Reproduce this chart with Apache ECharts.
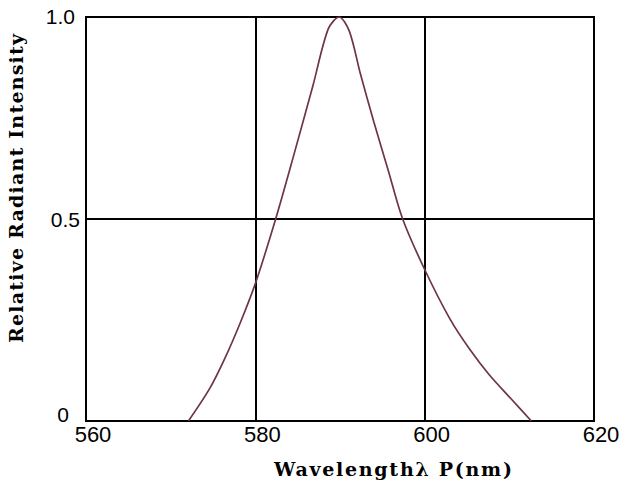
<!DOCTYPE html>
<html>
<head>
<meta charset="utf-8">
<script src="https://cdn.jsdelivr.net/npm/echarts@6/dist/echarts.min.js"></script>
<style>
html,body{margin:0;padding:0;background:#fff;}
#chart{width:624px;height:484px;}
</style>
</head>
<body>
<div id="chart"></div>
<script>
// Data
const wavelength = [572.1, 574.6, 576.4, 578.2, 580.0, 582.4, 584.5, 586.8, 588.6, 589.9, 591.1, 592.4, 594.0, 595.7, 597.4, 600.0, 603.0, 605.3, 607.6, 610.2, 612.6];
const intensity  = [0.0,   0.08,  0.155, 0.242, 0.34,  0.5,   0.655, 0.83,  0.97,  1.0,   0.965, 0.86,  0.74,  0.62,  0.5,   0.375, 0.252, 0.178, 0.115, 0.055, 0.0];
const xTicks = [560, 580, 600, 620];
const yTicks = [0, 0.5, 1.0];
const xTitle = 'Wavelengthλ P(nm)';
const yTitle = 'Relative Radiant Intensity';

const points = wavelength.map((w, i) => [w, intensity[i]]);
const chart = echarts.init(document.getElementById('chart'), null, {renderer: 'svg'});
const titleFont = 'bold 19px "DejaVu Serif"';

chart.setOption({
  animation: false,
  backgroundColor: '#fff',
  grid: {left: 86, right: 30, top: 17, bottom: 63, show: true, borderColor: '#000', borderWidth: 2, backgroundColor: 'transparent'},
  xAxis: {
    type: 'value', min: xTicks[0], max: xTicks[xTicks.length - 1], interval: 20,
    axisLine: {show: true, lineStyle: {color: '#000', width: 2}},
    axisTick: {show: false},
    splitLine: {show: true, lineStyle: {color: '#000', width: 2}},
    axisLabel: {color: '#000', fontFamily: 'Liberation Sans', fontSize: 22, margin: 2, padding: [0, 0, 0, 14],
      formatter: v => xTicks.includes(v) ? String(v) : ''}
  },
  yAxis: {
    type: 'value', min: yTicks[0], max: yTicks[yTicks.length - 1], interval: 0.5,
    axisLine: {show: true, lineStyle: {color: '#000', width: 2}},
    axisTick: {show: false},
    splitLine: {show: true, lineStyle: {color: '#000', width: 2}},
    axisLabel: {color: '#000', fontFamily: 'Liberation Sans', fontSize: 21, margin: 6,
      formatter: v => v === 0 ? '{z|0}' : (v === 1 ? '{o|1.0}' : v.toFixed(1)),
      rich: {
        z: {fontFamily: 'Liberation Sans', fontSize: 21, color: '#000', padding: [0, 11, 14, 0]},
        o: {fontFamily: 'Liberation Sans', fontSize: 21, color: '#000', padding: [0, 5, 2, 0]}
      }}
  },
  graphic: [
    {type: 'text', id: 'xt', x: 274, y: 469,
      style: {text: xTitle, font: titleFont, fill: '#000', align: 'left', verticalAlign: 'middle'}},
    {type: 'text', id: 'yt', x: 16, y: 343, rotation: Math.PI / 2,
      style: {text: yTitle, font: titleFont, fill: '#000', align: 'left', verticalAlign: 'middle'}}
  ],
  series: [{
    type: 'line', data: points, smooth: 0.3, symbol: 'none',
    lineStyle: {color: '#6e3448', width: 1.7}
  }]
});

function spaceTitles() {
  const texts = document.querySelectorAll('#chart svg text');
  texts.forEach(t => {
    let target = 0;
    const s = t.textContent;
    if (s === xTitle) target = 238;
    else if (s === yTitle) target = 309;
    if (!target) return;
    t.setAttribute('letter-spacing', '0');
    const len = t.getComputedTextLength();
    const sp = (target - len) / (s.length - 1);
    if (sp > 0) t.setAttribute('letter-spacing', sp.toFixed(2));
  });
}
chart.on('finished', spaceTitles);
setTimeout(spaceTitles, 50);
</script>
</body>
</html>
